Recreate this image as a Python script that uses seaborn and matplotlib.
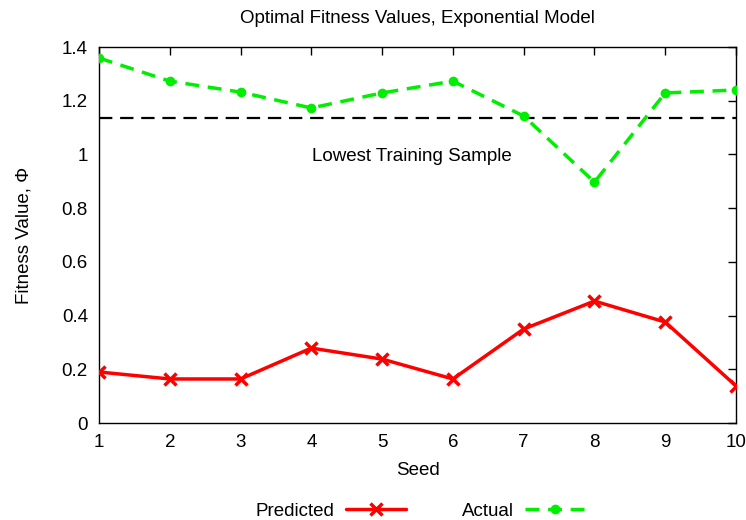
import matplotlib
matplotlib.use("Agg")
import matplotlib.pyplot as plt
import seaborn as sns
import pandas as pd

seeds = [1, 2, 3, 4, 5, 6, 7, 8, 9, 10]
predicted = [0.190, 0.164, 0.164, 0.279, 0.238, 0.164, 0.350, 0.454, 0.376, 0.138]
actual = [1.359, 1.273, 1.232, 1.173, 1.229, 1.273, 1.143, 0.897, 1.229, 1.240]
lowest_training = 1.136
y_ticks = [0, 0.2, 0.4, 0.6, 0.8, 1.0, 1.2, 1.4]
y_tick_labels = ["0", "0.2", "0.4", "0.6", "0.8", "1", "1.2", "1.4"]

sns.set_style("white")
plt.rcParams['font.family'] = ['Liberation Sans', 'DejaVu Sans']
plt.rcParams['text.color'] = 'black'
plt.rcParams['axes.labelcolor'] = 'black'
plt.rcParams['xtick.color'] = 'black'
plt.rcParams['ytick.color'] = 'black'

FS = 13.5
fig = plt.figure(figsize=(7.46, 5.2), dpi=100)
ax = fig.add_axes([0.1327, 0.1865, 0.8539, 0.7231])

df_p = pd.DataFrame({"Seed": seeds, "Value": predicted})
df_a = pd.DataFrame({"Seed": seeds, "Value": actual})

ax.axhline(lowest_training, color="black", lw=1.6, ls=(0, (6, 3.5)), zorder=2)
sns.lineplot(data=df_p, x="Seed", y="Value", ax=ax, color="#ff0000", lw=2.5,
             marker="x", markersize=8, markeredgewidth=2.5,
             markeredgecolor="#ff0000", label="Predicted", zorder=3)
sns.lineplot(data=df_a, x="Seed", y="Value", ax=ax, color="#00ee00", lw=2.5,
             ls=(0, (4, 2.5)), marker="o", markersize=7, markeredgewidth=0,
             markeredgecolor="#00ee00", label="Actual", zorder=3)

ax.text(5.42, 0.994, "Lowest Training Sample", ha="center", va="center",
        fontsize=FS, color="black")

ax.set_xlim(1, 10)
ax.set_ylim(0, 1.4)
ax.set_xticks(seeds)
ax.set_xticklabels([str(s) for s in seeds])
ax.tick_params(direction="in", length=6, width=1, top=True, right=True,
               labelsize=FS, pad=8, colors="black")
ax.set_yticks(y_ticks)
ax.set_yticklabels(y_tick_labels)
for s in ax.spines.values():
    s.set_color("black")
    s.set_linewidth(1)
ax.set_xlabel("Seed", fontsize=FS, labelpad=8, color="black")
ax.set_ylabel("Fitness Value, Φ", fontsize=FS, labelpad=21, color="black")
ax.set_title("Optimal Fitness Values, Exponential Model", fontsize=FS, pad=17,
             color="black")

leg = ax.legend(loc="upper center", bbox_to_anchor=(0.505, -0.202), ncol=2,
                frameon=False, markerfirst=False, fontsize=FS, handlelength=3.2,
                columnspacing=3, handletextpad=0.6, borderaxespad=0, borderpad=0.2,
                labelcolor="black")

fig.savefig("out.png", dpi=100)
